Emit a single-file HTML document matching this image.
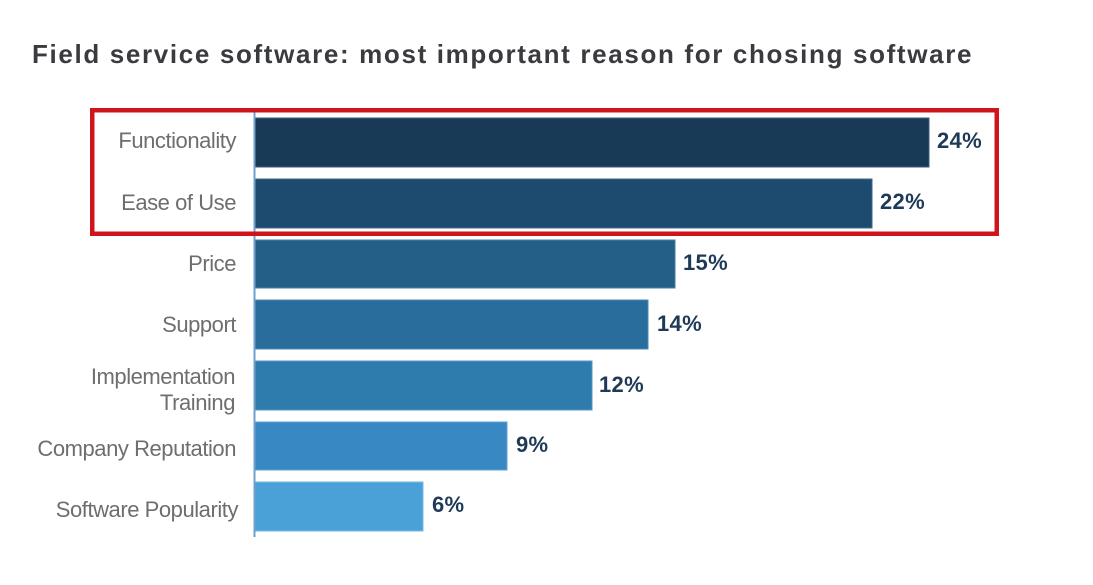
<!DOCTYPE html>
<html>
<head>
<meta charset="utf-8">
<style>
  html, body { margin: 0; padding: 0; background: #ffffff; }
  body { width: 1093px; height: 585px; overflow: hidden; }
  svg { display: block; }
  .lbl { font-family: "Liberation Sans", sans-serif; font-size: 22px; fill: #6e6e6e; letter-spacing: -0.45px; }
  .val { font-family: "Liberation Sans", sans-serif; font-size: 22px; font-weight: bold; fill: #1f3a56; letter-spacing: 0.3px; }
  .title { font-family: "Liberation Sans", sans-serif; font-size: 26px; font-weight: bold; fill: #3a3b3f; letter-spacing: 1.65px; }
</style>
</head>
<body>
<svg width="1093" height="585" viewBox="0 0 1093 585" xmlns="http://www.w3.org/2000/svg">
  <rect x="0" y="0" width="1093" height="585" fill="#ffffff"/>
  <text class="title" x="32" y="63">Field service software: most important reason for chosing software</text>

  <!-- bars -->
  <rect x="255" y="118" width="674" height="49" fill="#183a57" stroke="#3d5e7c" stroke-width="1"/>
  <rect x="255" y="179" width="617" height="49" fill="#1c4b6f" stroke="#43698b" stroke-width="1"/>
  <rect x="255" y="240" width="420" height="48" fill="#235f86" stroke="#4a7ea3" stroke-width="1"/>
  <rect x="255" y="300" width="393" height="49" fill="#296d9c" stroke="#5089b6" stroke-width="1"/>
  <rect x="255" y="361" width="337" height="49" fill="#2e7bad" stroke="#5896c4" stroke-width="1"/>
  <rect x="255" y="422" width="252" height="48" fill="#3888c4" stroke="#62a2d4" stroke-width="1"/>
  <rect x="255" y="482" width="168" height="49" fill="#4aa1d7" stroke="#75bae3" stroke-width="1"/>

  <!-- axis -->
  <line x1="254.5" y1="110" x2="254.5" y2="537" stroke="#6f9fcb" stroke-width="2"/>

  <!-- category labels -->
  <text class="lbl" x="236" y="148" text-anchor="end">Functionality</text>
  <text class="lbl" x="236" y="210" text-anchor="end">Ease of Use</text>
  <text class="lbl" x="236" y="271" text-anchor="end">Price</text>
  <text class="lbl" x="236" y="332" text-anchor="end">Support</text>
  <text class="lbl" x="235" y="384" text-anchor="end">Implementation</text>
  <text class="lbl" x="235" y="410" text-anchor="end">Training</text>
  <text class="lbl" x="236" y="456" text-anchor="end">Company Reputation</text>
  <text class="lbl" x="238" y="517" text-anchor="end">Software Popularity</text>

  <!-- values -->
  <text class="val" x="937" y="148">24%</text>
  <text class="val" x="880" y="209">22%</text>
  <text class="val" x="683" y="270">15%</text>
  <text class="val" x="657" y="331">14%</text>
  <text class="val" x="599" y="392">12%</text>
  <text class="val" x="516" y="452">9%</text>
  <text class="val" x="432" y="512">6%</text>

  <!-- red highlight box -->
  <rect x="92.25" y="110.25" width="904.5" height="123.5" fill="none" stroke="#d0141c" stroke-width="4.5"/>
</svg>
</body>
</html>
